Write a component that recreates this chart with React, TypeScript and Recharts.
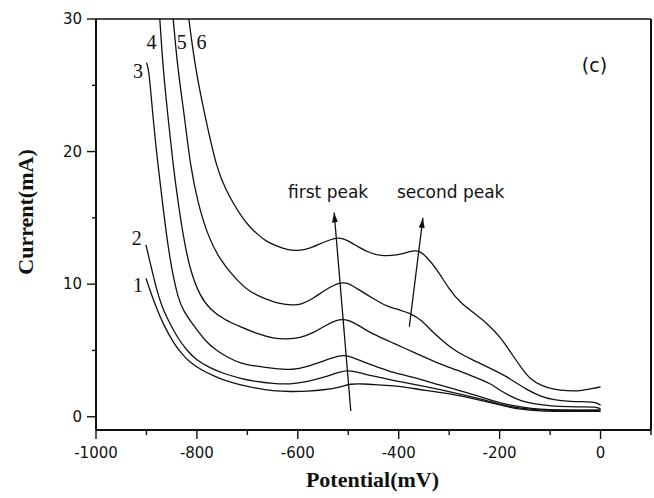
import React from 'react';
import { LineChart, Line, XAxis, YAxis, ReferenceLine, ReferenceDot } from 'recharts';

// potential (mV), current (mA)
const curve1: [number, number][] = [
  [-901, 10.44], [-890, 9.2], [-880, 8.2], [-867, 7.0], [-847, 5.6], [-830, 4.75], [-814, 4.1],
  [-790, 3.5], [-765, 3.05], [-748, 2.77], [-715, 2.4], [-682, 2.14], [-650, 1.95], [-615, 1.89],
  [-580, 1.92], [-549, 2.02], [-516, 2.22], [-496, 2.5], [-470, 2.48], [-440, 2.4], [-417, 2.35],
  [-397, 2.3], [-350, 2.0], [-284, 1.64], [-250, 1.35], [-218, 1.05], [-190, 0.8], [-159, 0.55],
  [-120, 0.42], [-80, 0.4], [-40, 0.4], [0, 0.4],
];
const curve2: [number, number][] = [
  [-901, 12.96], [-890, 11.2], [-880, 9.6], [-870, 8.4], [-860, 7.5], [-840, 6.04], [-820, 5.0],
  [-801, 4.28], [-775, 3.7], [-748, 3.27], [-715, 2.9], [-682, 2.64], [-650, 2.5], [-615, 2.44],
  [-580, 2.65], [-549, 2.97], [-516, 3.4], [-500, 3.5], [-480, 3.35], [-450, 3.05], [-417, 2.8],
  [-397, 2.64], [-350, 2.3], [-284, 1.77], [-250, 1.45], [-218, 1.15], [-190, 0.85], [-159, 0.63],
  [-120, 0.5], [-80, 0.48], [-40, 0.48], [0, 0.5],
];
const curve3: [number, number][] = [
  [-900, 26.7], [-895, 26.2], [-887, 22.5], [-877, 18.9], [-868, 16.1], [-860, 13.6], [-850, 11.1],
  [-837, 8.9], [-827, 8.0], [-807, 6.9], [-781, 5.6], [-761, 5.0], [-740, 4.5], [-715, 4.03],
  [-680, 3.8], [-649, 3.65], [-609, 3.52], [-582, 3.77], [-550, 4.2], [-516, 4.65], [-500, 4.6],
  [-480, 4.3], [-450, 3.85], [-417, 3.4], [-397, 3.22], [-351, 2.77], [-320, 2.4], [-284, 2.02],
  [-250, 1.65], [-218, 1.26], [-190, 0.95], [-159, 0.75], [-120, 0.55], [-80, 0.5], [-40, 0.5],
  [0, 0.5],
];
const curve4: [number, number][] = [
  [-873.5, 30], [-867, 26.2], [-857, 22.5], [-847, 18.9], [-837, 16.1], [-827, 13.6], [-814, 11.1],
  [-794, 9.1], [-774, 8.1], [-745, 7.3], [-715, 6.8], [-680, 6.25], [-649, 5.9], [-620, 5.85],
  [-596, 5.95], [-570, 6.3], [-545, 6.9], [-516, 7.4], [-500, 7.3], [-480, 6.9], [-450, 6.2],
  [-417, 5.66], [-390, 5.2], [-351, 4.53], [-320, 4.0], [-284, 3.52], [-250, 3.0], [-218, 2.52],
  [-198, 1.95], [-178, 1.55], [-159, 1.2], [-130, 0.95], [-99, 0.81], [-60, 0.76], [-33, 0.75],
  [-10, 0.75], [0, 0.6],
];
const curve5: [number, number][] = [
  [-847, 30], [-838, 26.2], [-824, 22.5], [-813, 18.9], [-798, 16.1], [-778, 13.6], [-754, 11.8],
  [-721, 10.3], [-695, 9.4], [-665, 8.9], [-635, 8.5], [-609, 8.43], [-595, 8.45], [-570, 8.9],
  [-545, 9.6], [-516, 10.15], [-500, 10.1], [-480, 9.6], [-450, 8.9], [-423, 8.3], [-397, 8.05],
  [-377, 7.8], [-355, 7.3], [-337, 6.54], [-315, 5.8], [-291, 5.03], [-260, 4.4], [-225, 3.77],
  [-200, 3.3], [-185, 3.0], [-165, 2.5], [-145, 2.02], [-120, 1.55], [-93, 1.26], [-60, 1.15],
  [-26, 1.13], [-10, 1.1], [0, 0.88],
];
const curve6: [number, number][] = [
  [-816, 30], [-803, 26.2], [-783, 22.5], [-760, 18.6], [-742, 17.1], [-728, 16.1], [-710, 15.0],
  [-695, 14.3], [-678, 13.7], [-662, 13.2], [-640, 12.85], [-622, 12.6], [-600, 12.5], [-575, 12.7],
  [-550, 13.15], [-523, 13.55], [-505, 13.4], [-480, 12.8], [-455, 12.3], [-430, 12.1], [-400, 12.2],
  [-380, 12.45], [-362, 12.6], [-345, 12.1], [-324, 11.1], [-300, 9.6], [-278, 8.6], [-250, 7.8],
  [-225, 7.05], [-198, 6.0], [-172, 4.5], [-155, 3.6], [-139, 2.8], [-115, 2.3], [-93, 2.05],
  [-65, 1.95], [-40, 1.95], [-20, 2.1], [0, 2.25],
];

const curves = [curve1, curve2, curve3, curve4, curve5, curve6];
const curveNames = ['1', '2', '3', '4', '5', '6'];
const curveNamePos: [number, number][] = [
  [-917, 9.9], [-919, 13.5], [-917, 26.1], [-890, 28.3], [-830, 28.3], [-791, 28.3],
];

const arrowFirst: [number, number][] = [[-495, 0.43], [-528, 15.4]];
const arrowSecond: [number, number][] = [[-379, 6.8], [-352, 15.0]];

const notes: { text: string; x: number; y: number }[] = [
  { text: 'first peak', x: -540, y: 16.95 },
  { text: 'second peak', x: -297, y: 16.95 },
  { text: '(c)', x: -12, y: 26.5 },
];

const xTicks = [-1000, -900, -800, -700, -600, -500, -400, -300, -200, -100, 0, 100];
const xLabelled = [-1000, -800, -600, -400, -200, 0];
const yTicks = [0, 5, 10, 15, 20, 25, 30];
const yLabelled = [0, 10, 20, 30];

const toPoints = (c: [number, number][]) => c.map(([x, y]) => ({ x, y }));

const INK = '#111';
const SANS = '"DejaVu Sans", sans-serif';
const SERIF = '"Liberation Serif", "Times New Roman", serif';

function XTick({ x, y, payload }: any) {
  const major = xLabelled.includes(payload.value);
  return (
    <g>
      <line x1={x} y1={y} x2={x} y2={y + (major ? 9 : 5)} stroke={INK} strokeWidth={1.4} />
      {major && (
        <text x={x} y={y + 23} textAnchor="middle" dominantBaseline="central" fontFamily={SANS} fontSize={15} fill={INK}>
          {payload.value}
        </text>
      )}
    </g>
  );
}

function YTick({ x, y, payload }: any) {
  const major = yLabelled.includes(payload.value);
  return (
    <g>
      <line x1={x - (major ? 9 : 4)} y1={y} x2={x} y2={y} stroke={INK} strokeWidth={1.4} />
      {major && (
        <text x={x - 14} y={y} textAnchor="end" dominantBaseline="central" fontFamily={SANS} fontSize={15} fill={INK}>
          {payload.value}
        </text>
      )}
    </g>
  );
}

export default function App() {
  return (
    <div style={{ position: 'absolute', left: 0, top: 0, background: '#fff' }}>
      <LineChart width={654} height={498} margin={{ top: 19, right: 3, bottom: 0, left: 0 }}>
        <defs>
          <marker id="arrowHead" viewBox="0 0 10 6" refX="10" refY="3" markerWidth="10" markerHeight="6"
            orient="auto" markerUnits="userSpaceOnUse">
            <path d="M0,0 L10,3 L0,6 z" fill={INK} />
          </marker>
        </defs>
        <XAxis
          type="number"
          dataKey="x"
          domain={[-1000, 100]}
          allowDataOverflow
          ticks={xTicks}
          interval={0}
          height={68}
          tickSize={0}
          tickMargin={0}
          tickLine={false}
          axisLine={{ stroke: INK, strokeWidth: 2 }}
          tick={<XTick />}
          label={(props: any) => {
            const vb = props.viewBox;
            return (
              <text x={vb.x + vb.width / 2 - 1} y={487} textAnchor="middle" fontFamily={SERIF}
                fontWeight="bold" fontSize={22} fill={INK}>
                Potential(mV)
              </text>
            );
          }}
        />
        <YAxis
          type="number"
          domain={[-1, 30]}
          allowDataOverflow
          ticks={yTicks}
          interval={0}
          width={96}
          tickSize={0}
          tickMargin={0}
          tickLine={false}
          axisLine={{ stroke: INK, strokeWidth: 2 }}
          tick={<YTick />}
          label={() => (
            <text x={33} y={212} transform="rotate(-90 33 212)" textAnchor="middle" fontFamily={SERIF}
              fontWeight="bold" fontSize={22} fill={INK}>
              Current(mA)
            </text>
          )}
        />
        <ReferenceLine y={30} stroke={INK} strokeWidth={1.6} />
        <ReferenceLine x={100} stroke={INK} strokeWidth={2} />
        {curves.map((c, i) => (
          <Line
            key={curveNames[i]}
            data={toPoints(c)}
            dataKey="y"
            type="basis"
            stroke={INK}
            strokeWidth={1.3}
            dot={false}
            activeDot={false}
            isAnimationActive={false}
          />
        ))}
        {[arrowFirst, arrowSecond].map((a, i) => (
          <Line
            key={'arrow' + i}
            data={toPoints(a)}
            dataKey="y"
            type="linear"
            stroke={INK}
            strokeWidth={1.3}
            dot={false}
            activeDot={false}
            markerEnd="url(#arrowHead)"
            isAnimationActive={false}
          />
        ))}
        {curveNamePos.map(([x, y], i) => (
          <ReferenceDot
            key={'n' + i}
            x={x}
            y={y}
            r={0}
            shape={(p: any) => (
              <text x={p.cx} y={p.cy} textAnchor="middle" dominantBaseline="central" fontFamily={SERIF}
                fontSize={20} fill={INK}>
                {curveNames[i]}
              </text>
            )}
          />
        ))}
        {notes.map((n) => (
          <ReferenceDot
            key={n.text}
            x={n.x}
            y={n.y}
            r={0}
            shape={(p: any) => (
              <text x={p.cx} y={p.cy} textAnchor="middle" dominantBaseline="central" fontFamily={SANS}
                fontSize={n.text === '(c)' ? 19 : 17} fill={INK}>
                {n.text}
              </text>
            )}
          />
        ))}
      </LineChart>
    </div>
  );
}
